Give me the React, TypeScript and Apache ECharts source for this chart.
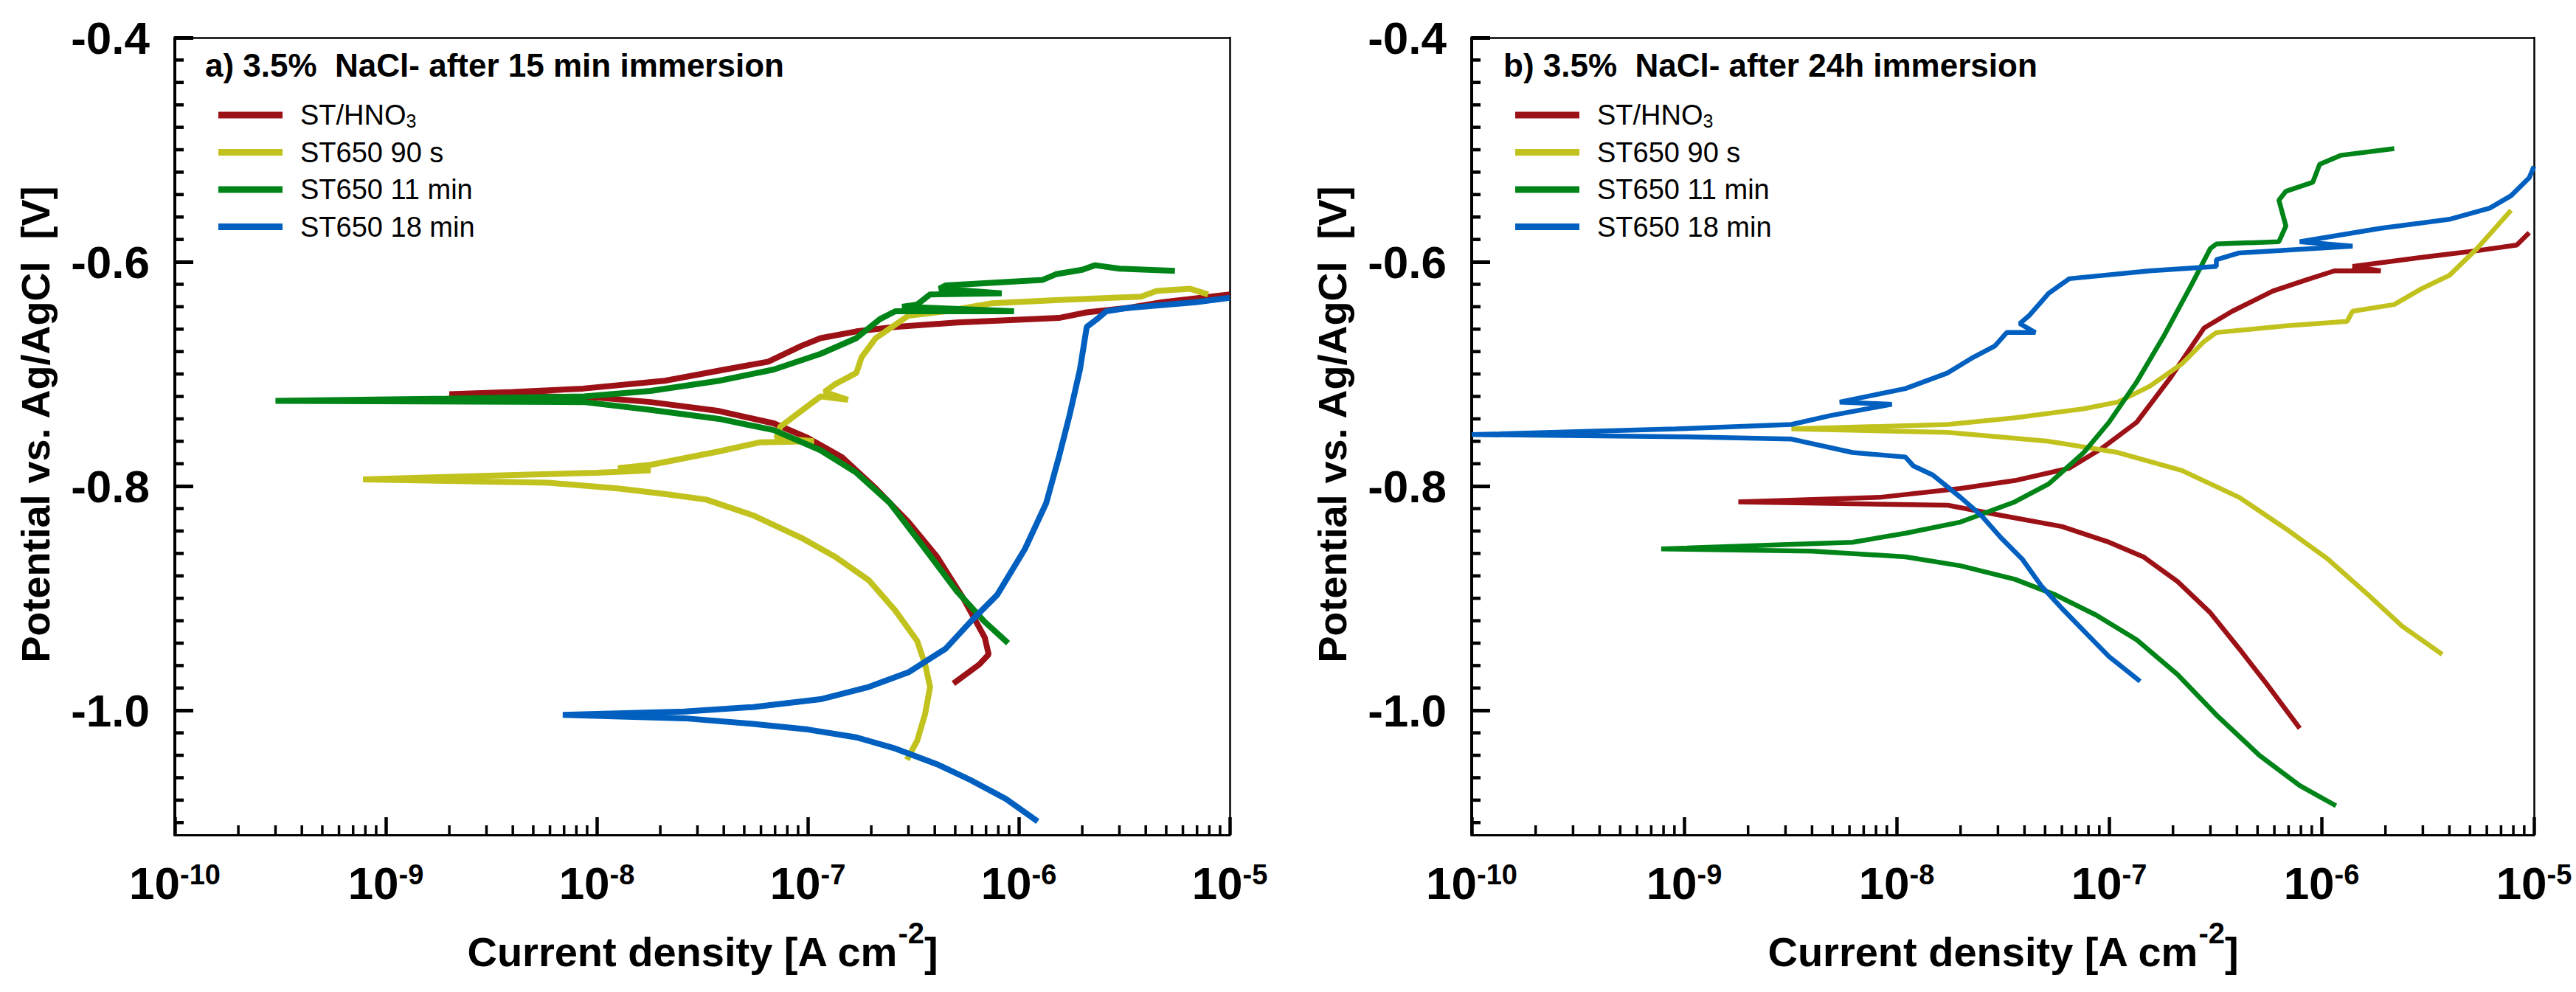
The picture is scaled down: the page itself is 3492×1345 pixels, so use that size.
import React, { useEffect, useRef } from 'react';
import * as echarts from 'echarts';

const FONT = '"Liberation Sans", Arial, Helvetica, sans-serif';

// Series names & colours
const seriesNames = ['ST/HNO3', 'ST650 90 s', 'ST650 11 min', 'ST650 18 min'];
const seriesColors = ['#9c1116', '#c2c21f', '#008418', '#005fbf'];

const panelTitles = ['a) 3.5%  NaCl- after 15 min immersion', 'b) 3.5%  NaCl- after 24h immersion'];
const yAxisTitle = 'Potential vs. Ag/AgCl  [V]';

// Axis ticks
const xDecades = [-10, -9, -8, -7, -6, -5]; // log10 of current density
const xMinorFactors = [2, 3, 4, 5, 6, 7, 8, 9];
const yMajorTicks = [-1.0, -0.8, -0.6, -0.4];
const yMinorStep = 0.02;
const yMin = -1.111;
const yMax = -0.4;

// Data: [current density (A cm^-2), potential (V vs Ag/AgCl)]
// Panel a) after 15 min immersion
const a_HNO3 = [
  [4.9e-7, -0.976], [6.5e-7, -0.959], [7.2e-7, -0.95], [6.9e-7, -0.935], [5.5e-7, -0.901], [4.1e-7, -0.863],
  [3.0e-7, -0.832], [2.1e-7, -0.802], [1.45e-7, -0.774], [1.0e-7, -0.757], [6.9e-8, -0.744], [3.8e-8, -0.733],
  [1.8e-8, -0.725], [1.0e-8, -0.721], [2.0e-9, -0.718],
  [4.0e-9, -0.716], [8.6e-9, -0.713], [2.1e-8, -0.706], [3.8e-8, -0.697], [6.5e-8, -0.689], [9.3e-8, -0.675],
  [1.15e-7, -0.668], [1.7e-7, -0.662], [2.6e-7, -0.658], [5.1e-7, -0.654], [1.55e-6, -0.65], [2.1e-6, -0.645],
  [3.3e-6, -0.641], [4.8e-6, -0.636], [1.0e-5, -0.629],
];
const a_90s = [
  [2.95e-7, -1.044], [3.3e-7, -1.027], [3.6e-7, -1.003], [3.8e-7, -0.979], [3.6e-7, -0.959], [3.3e-7, -0.938],
  [2.6e-7, -0.911], [1.95e-7, -0.884], [1.35e-7, -0.863], [9.3e-8, -0.846], [5.5e-8, -0.826], [3.3e-8, -0.812],
  [2.1e-8, -0.807], [1.26e-8, -0.802], [5.9e-9, -0.797], [7.8e-10, -0.794],
  [4.1e-9, -0.79], [1.0e-8, -0.788], [1.8e-8, -0.786], [1.26e-8, -0.784], [1.8e-8, -0.781], [3.8e-8, -0.769],
  [5.9e-8, -0.761], [1.07e-7, -0.76], [7.1e-8, -0.757], [7.4e-8, -0.747], [9.3e-8, -0.733], [1.15e-7, -0.72],
  [1.55e-7, -0.723], [1.2e-7, -0.716], [1.35e-7, -0.709], [1.7e-7, -0.699], [1.8e-7, -0.685], [2.1e-7, -0.668],
  [2.6e-7, -0.656], [3.0e-7, -0.648], [4.5e-7, -0.644], [7.4e-7, -0.637], [1.55e-6, -0.634], [3.8e-6, -0.631],
  [4.5e-6, -0.626], [6.5e-6, -0.624], [7.9e-6, -0.629],
];
const a_11min = [
  [8.9e-7, -0.94], [6.9e-7, -0.921], [5.1e-7, -0.894], [3.5e-7, -0.853], [2.45e-7, -0.815], [1.7e-7, -0.788],
  [1.15e-7, -0.768], [6.9e-8, -0.75], [3.8e-8, -0.74], [1.8e-8, -0.732], [8.7e-9, -0.725], [3.0e-10, -0.724],
  [1.95e-9, -0.722], [8.7e-9, -0.72], [1.8e-8, -0.715], [3.8e-8, -0.706], [6.9e-8, -0.696], [1.15e-7, -0.682],
  [1.7e-7, -0.668], [2.2e-7, -0.651], [2.6e-7, -0.644], [9.5e-7, -0.644], [2.8e-7, -0.64], [3.3e-7, -0.638],
  [3.8e-7, -0.629], [8.3e-7, -0.628], [4.2e-7, -0.624], [4.5e-7, -0.621], [1.3e-6, -0.616], [1.5e-6, -0.611],
  [2.0e-6, -0.607], [2.3e-6, -0.603], [3.0e-6, -0.606], [5.5e-6, -0.608],
];
const a_18min = [
  [1.23e-6, -1.099], [8.7e-7, -1.079], [5.9e-7, -1.062], [4.1e-7, -1.048], [2.6e-7, -1.034], [1.7e-7, -1.024],
  [1.0e-7, -1.017], [5.5e-8, -1.012], [2.6e-8, -1.007], [6.9e-9, -1.004],
  [2.6e-8, -1.001], [5.5e-8, -0.997], [1.15e-7, -0.99], [1.95e-7, -0.979], [3.0e-7, -0.966], [4.5e-7, -0.945],
  [5.9e-7, -0.921], [7.9e-7, -0.897], [1.07e-6, -0.856], [1.35e-6, -0.815], [1.55e-6, -0.774], [1.74e-6, -0.737],
  [1.95e-6, -0.696], [2.1e-6, -0.658], [2.35e-6, -0.651], [2.6e-6, -0.644], [3.3e-6, -0.641], [6.9e-6, -0.636],
  [1.0e-5, -0.632],
];

// Panel b) after 24 h immersion
const b_HNO3 = [
  [7.9e-7, -1.016], [5.5e-7, -0.976], [4.1e-7, -0.945], [3.0e-7, -0.913], [2.1e-7, -0.885], [1.45e-7, -0.863],
  [1.0e-7, -0.85], [6.0e-8, -0.836], [3.1e-8, -0.826], [1.74e-8, -0.817], [1.8e-9, -0.814],
  [8.3e-9, -0.81], [2.0e-8, -0.802], [3.6e-8, -0.795], [6.5e-8, -0.784], [9.3e-8, -0.766], [1.35e-7, -0.743],
  [1.95e-7, -0.703], [2.8e-7, -0.659], [3.8e-7, -0.644], [5.9e-7, -0.626], [8.5e-7, -0.616], [1.15e-6, -0.608],
  [1.9e-6, -0.608], [1.4e-6, -0.604], [2.95e-6, -0.596], [5.4e-6, -0.59], [8.3e-6, -0.585], [9.5e-6, -0.574],
];
const b_90s = [
  [3.7e-6, -0.95], [2.4e-6, -0.925], [1.66e-6, -0.897], [1.07e-6, -0.865], [6.8e-7, -0.838], [4.1e-7, -0.81],
  [2.2e-7, -0.786], [1.1e-7, -0.77], [5.2e-8, -0.76], [1.74e-8, -0.752], [3.2e-9, -0.749],
  [1.74e-8, -0.745], [3.6e-8, -0.739], [7.6e-8, -0.731], [1.1e-7, -0.725], [1.55e-7, -0.711], [2.2e-7, -0.691],
  [2.8e-7, -0.671], [3.2e-7, -0.663], [6.8e-7, -0.657], [1.32e-6, -0.653], [1.4e-6, -0.644], [2.2e-6, -0.638],
  [2.95e-6, -0.624], [4.0e-6, -0.612], [5.4e-6, -0.588], [7.8e-6, -0.554],
];
const b_11min = [
  [1.17e-6, -1.085], [7.9e-7, -1.067], [5.1e-7, -1.04], [3.2e-7, -1.004], [2.1e-7, -0.968], [1.35e-7, -0.937],
  [8.7e-8, -0.915], [5.6e-8, -0.897], [3.6e-8, -0.883], [2.0e-8, -0.871], [1.1e-8, -0.863], [4.0e-9, -0.858],
  [7.8e-10, -0.856],
  [6.2e-9, -0.85], [1.1e-8, -0.842], [2.0e-8, -0.832], [3.6e-8, -0.814], [5.2e-8, -0.798], [7.6e-8, -0.77],
  [1.0e-7, -0.743], [1.35e-7, -0.707], [1.8e-7, -0.667], [2.45e-7, -0.62], [3.0e-7, -0.588], [3.2e-7, -0.584],
  [6.3e-7, -0.582], [6.8e-7, -0.568], [6.3e-7, -0.545], [6.8e-7, -0.537], [9.1e-7, -0.529], [9.8e-7, -0.513],
  [1.23e-6, -0.505], [2.2e-6, -0.499],
];
const b_18min = [
  [1.4e-7, -0.974], [1.0e-7, -0.952], [7.6e-8, -0.929], [6.0e-8, -0.909], [4.8e-8, -0.889], [3.9e-8, -0.865],
  [3.1e-8, -0.846], [2.5e-8, -0.826], [2.0e-8, -0.81], [1.48e-8, -0.79], [1.2e-8, -0.782], [1.1e-8, -0.774],
  [6.2e-9, -0.77], [3.2e-9, -0.758], [1.0e-9, -0.756], [1.0e-10, -0.754],
  [9.1e-10, -0.749], [3.2e-9, -0.745], [4.9e-9, -0.737], [9.5e-9, -0.727], [5.4e-9, -0.725], [1.1e-8, -0.713],
  [1.74e-8, -0.699], [2.3e-8, -0.685], [2.9e-8, -0.675], [3.3e-8, -0.663], [4.5e-8, -0.663], [3.8e-8, -0.655],
  [4.2e-8, -0.648], [5.2e-8, -0.628], [6.5e-8, -0.615], [1.55e-7, -0.608], [3.2e-7, -0.604], [3.2e-7, -0.598],
  [4.1e-7, -0.592], [1.4e-6, -0.586], [7.9e-7, -0.582], [1.9e-6, -0.57], [4.0e-6, -0.562], [6.2e-6, -0.552],
  [7.8e-6, -0.541], [9.5e-6, -0.525], [1.0e-5, -0.515],
];

const panelData = [
  [a_HNO3, a_90s, a_11min, a_18min],
  [b_HNO3, b_90s, b_11min, b_18min],
];

// Layout
const grids = [
  { left: 237, top: 51, width: 1430, height: 1081 },
  { left: 1995, top: 51, width: 1440, height: 1081 },
];
const legendLeft = [296, 2054];
const titleLeft = [278, 2038];
const lineWidths = [8, 6.5];

function buildOption() {
  // minor tick positions (axis values)
  const xMinorItems: number[][] = [];
  xDecades.forEach((d) => {
    if (d < -5) xMinorFactors.forEach((k) => xMinorItems.push([d + Math.log10(k), yMin]));
  });
  const yMinorItems: number[][] = [];
  const nSteps = Math.round((yMax - (-1.1)) / yMinorStep);
  for (let s = 0; s <= nSteps; s++) {
    const v = Math.round((-1.1 + s * yMinorStep) * 100) / 100;
    const major = yMajorTicks.some((m) => Math.abs(m - v) < 1e-9);
    if (!major) yMinorItems.push([-10, v]);
  }

  const xAxis: any[] = [];
  const yAxis: any[] = [];
  const series: any[] = [];
  const legend: any[] = [];
  const graphic: any[] = [];

  grids.forEach((g, p) => {
    // bottom axis
    xAxis.push({
      type: 'value', gridIndex: p, min: -10, max: -5, interval: 1, position: 'bottom',
      axisLine: { show: true, onZero: false, lineStyle: { color: '#000', width: 3 } },
      axisTick: { show: true, inside: true, length: 24, lineStyle: { color: '#000', width: 4.5 } },
      splitLine: { show: false },
      axisLabel: {
        show: true,
        margin: 35,
        formatter: (v: number) => `{b|10}{s|${Math.round(v)}}`,
        rich: {
          b: { fontSize: 62, fontWeight: 'bold', fontFamily: FONT, color: '#000', lineHeight: 61 },
          s: { fontSize: 38, fontWeight: 'bold', fontFamily: FONT, color: '#000', lineHeight: 38, verticalAlign: 'top' },
        },
      },
    });
    // top frame line
    xAxis.push({
      type: 'value', gridIndex: p, min: -10, max: -5, interval: 1, position: 'top',
      axisLine: { show: true, onZero: false, lineStyle: { color: '#000', width: 2.5 } },
      axisTick: { show: false }, axisLabel: { show: false }, splitLine: { show: false },
    });
    // left axis
    yAxis.push({
      type: 'value', gridIndex: p, min: yMin, max: yMax, position: 'left',
      axisLine: { show: true, onZero: false, lineStyle: { color: '#000', width: 4 } },
      axisTick: { show: true, inside: true, length: 25, customValues: yMajorTicks, lineStyle: { color: '#000', width: 5 } },
      splitLine: { show: false },
      axisLabel: {
        show: true,
        margin: 34, customValues: yMajorTicks,
        formatter: (v: number) => v.toFixed(1),
        fontSize: 62, fontWeight: 'bold', fontFamily: FONT, color: '#000',
      },
    });
    // right frame line
    yAxis.push({
      type: 'value', gridIndex: p, min: yMin, max: yMax, position: 'right',
      axisLine: { show: true, onZero: false, lineStyle: { color: '#000', width: 2.5 } },
      axisTick: { show: false }, axisLabel: { show: false }, splitLine: { show: false },
    });

    panelData[p].forEach((pts, s) => {
      series.push({
        type: 'line',
        name: seriesNames[s],
        xAxisIndex: 2 * p,
        yAxisIndex: 2 * p,
        data: pts.map(([i, e]) => [Math.log10(i), e]),
        showSymbol: false,
        symbol: 'none',
        clip: true,
        silent: true,
        lineStyle: { width: lineWidths[p], color: seriesColors[s] },
        itemStyle: { color: seriesColors[s] },
        emphasis: { disabled: true },
      });
    });

    // logarithmic minor ticks on the bottom axis
    series.push({
      type: 'custom', name: 'xMinorTicks', xAxisIndex: 2 * p, yAxisIndex: 2 * p, silent: true, z: 6,
      data: xMinorItems,
      renderItem: (_params: any, api: any) => {
        const c = api.coord([api.value(0), api.value(1)]);
        return {
          type: 'line',
          shape: { x1: c[0], y1: c[1], x2: c[0], y2: c[1] - 13 },
          style: { stroke: '#000', lineWidth: 3.5 },
        };
      },
    });
    // minor ticks on the left axis
    series.push({
      type: 'custom', name: 'yMinorTicks', xAxisIndex: 2 * p, yAxisIndex: 2 * p, silent: true, z: 6,
      data: yMinorItems,
      renderItem: (_params: any, api: any) => {
        const c = api.coord([api.value(0), api.value(1)]);
        return {
          type: 'line',
          shape: { x1: c[0], y1: c[1], x2: c[0] + 12, y2: c[1] },
          style: { stroke: '#000', lineWidth: 4.5 },
        };
      },
    });

    legend.push({
      orient: 'vertical',
      left: legendLeft[p],
      top: 136,
      padding: 0,
      itemGap: 10.5,
      itemWidth: 87,
      itemHeight: 9,
      selectedMode: false,
      data: seriesNames.map((name) => ({ name, icon: 'rect' })),
      formatter: (name: string) => (name === 'ST/HNO3' ? '{n|ST/HNO}{sub|3}' : `{n|${name}}`),
      textStyle: {
        fontSize: 38, fontFamily: FONT, color: '#000', lineHeight: 40, padding: [0, 0, 0, 19],
        rich: {
          n: { fontSize: 38, fontFamily: FONT, color: '#000', lineHeight: 40 },
          sub: { fontSize: 25, fontFamily: FONT, color: '#000', lineHeight: 9, verticalAlign: 'bottom' },
        },
      },
    });

    graphic.push({
      type: 'text', left: titleLeft[p], top: 91 - 25, z: 10,
      style: { text: panelTitles[p], fontSize: 44, fontWeight: 'bold', fontFamily: FONT, fill: '#000' },
    });
    graphic.push({
      type: 'text', x: g.left - 189, y: g.top + g.height / 2 - 16, rotation: Math.PI / 2, z: 10,
      style: {
        text: yAxisTitle, fontSize: 54, fontWeight: 'bold', fontFamily: FONT, fill: '#000',
        align: 'center', verticalAlign: 'middle',
      },
    });
    graphic.push({
      type: 'text', x: g.left + g.width / 2, y: 1290, z: 10,
      style: {
        text: '{n|Current density [A cm}{s|-2}{n|]}',
        align: 'center', verticalAlign: 'middle',
        rich: {
          n: { fontSize: 56, fontWeight: 'bold', fontFamily: FONT, fill: '#000', lineHeight: 90 },
          s: { fontSize: 40, fontWeight: 'bold', fontFamily: FONT, fill: '#000', lineHeight: 40, verticalAlign: 'top' },
        },
      },
    });
  });

  return {
    animation: false,
    backgroundColor: '#fff',
    grid: grids.map((g) => ({ ...g, show: false })),
    xAxis,
    yAxis,
    legend,
    series,
    graphic,
  };
}

export default function App() {
  const ref = useRef<HTMLDivElement>(null);
  useEffect(() => {
    if (!ref.current) return;
    const chart = echarts.init(ref.current, undefined, { renderer: 'svg' });
    chart.setOption(buildOption());
    return () => chart.dispose();
  }, []);
  return (
    <div
      ref={ref}
      style={{ position: 'fixed', left: 0, top: 0, width: 3492, height: 1345, background: '#fff' }}
    />
  );
}
